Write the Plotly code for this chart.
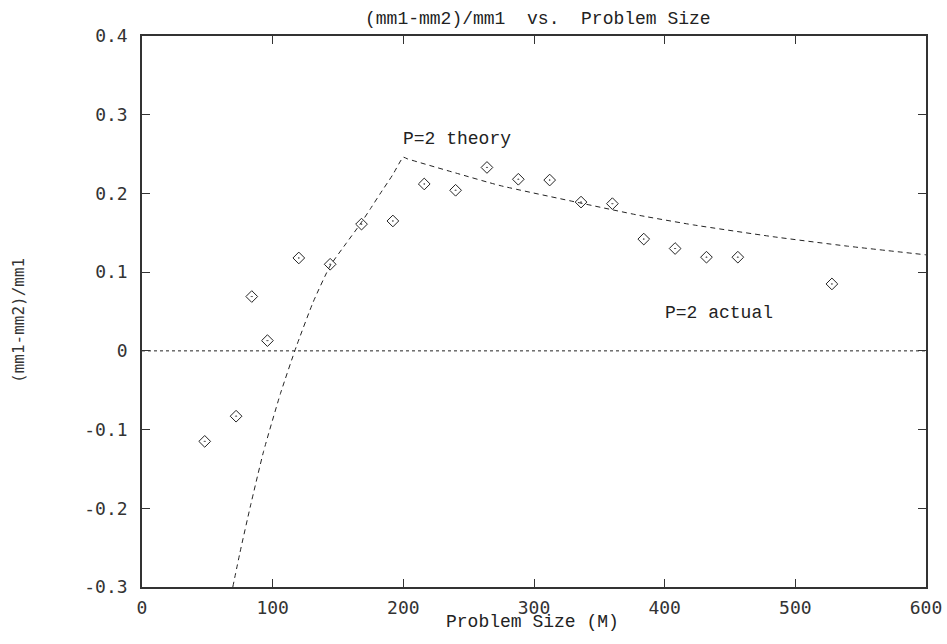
import plotly.graph_objects as go

# Measured ("P=2 actual") points
actual_x = [48, 72, 84, 96, 120, 144, 168, 192, 216, 240, 264, 288, 312, 336, 360, 384, 408, 432, 456, 528]
actual_y = [-0.115, -0.083, 0.069, 0.013, 0.118, 0.110, 0.161, 0.165, 0.212, 0.204, 0.233, 0.218, 0.217,
            0.189, 0.187, 0.142, 0.130, 0.119, 0.119, 0.085]

# Theory curve ("P=2 theory")
theory_x = [69.5, 75, 83, 93, 106, 118, 131, 144, 156, 167, 175, 182, 192, 200, 203, 240, 274, 335, 381, 422, 483, 540, 600]
theory_y = [-0.300, -0.256, -0.197, -0.128, -0.054, 0.005, 0.062, 0.108, 0.136, 0.161, 0.181, 0.199, 0.224, 0.246,
            0.244, 0.226, 0.210, 0.188, 0.172, 0.160, 0.145, 0.133, 0.122]

x_ticks = [0, 100, 200, 300, 400, 500, 600]
x_tick_text = ["0", "100", "200", "300", "400", "500", "600"]
y_ticks = [-0.3, -0.2, -0.1, 0, 0.1, 0.2, 0.3, 0.4]
y_tick_text = ["-0.3", "-0.2", "-0.1", "0", "0.1", "0.2", "0.3", "0.4"]

title_text = "(mm1-mm2)/mm1  vs.  Problem Size"
x_title = "Problem Size (M)"
y_title = "(mm1-mm2)/mm1"

INK = "#222222"
MONO = "Liberation Mono, Courier New, monospace"
SANSMONO = "DejaVu Sans Mono, monospace"

fig = go.Figure()
fig.add_trace(go.Scatter(x=theory_x, y=theory_y, mode="lines",
                         line=dict(color=INK, width=1, dash="5px,4px", shape="spline", smoothing=0.5),
                         name="P=2 theory", showlegend=False))
fig.add_trace(go.Scatter(x=actual_x, y=actual_y, mode="markers",
                         marker=dict(symbol="diamond-open-dot", size=9, color=INK,
                                     line=dict(width=1, color=INK)),
                         name="P=2 actual", showlegend=False))

fig.add_shape(type="line", xref="paper", x0=0, x1=1, yref="y", y0=0, y1=0,
              line=dict(color=INK, width=1, dash="dot"), layer="below")

axis_common = dict(showline=True, linecolor="#333333", linewidth=1.5, mirror="ticks",
                   ticks="inside", ticklen=8, tickwidth=1, tickcolor="#333333",
                   showgrid=False, zeroline=False, automargin=False,
                   tickfont=dict(family=SANSMONO, size=18, color="#333333"))

fig.update_xaxes(range=[0, 600], tickvals=x_ticks, ticktext=x_tick_text,
                 ticklabelstandoff=4, **axis_common)
fig.update_yaxes(range=[-0.3, 0.4], tickvals=y_ticks, ticktext=y_tick_text,
                 ticklabelstandoff=9, **axis_common)

W, H = 947, 644
ml, mr, mt, mb = 142, 21, 36, 57
pw, ph = W - ml - mr, H - mt - mb

def px_x(p):
    return (p - ml) / pw

def px_y(p):
    return (H - mb - p) / ph

annotations = [
    dict(text=title_text, xref="paper", yref="paper", x=px_x(538), y=px_y(19),
         showarrow=False, font=dict(family=MONO, size=18, color=INK), xanchor="center", yanchor="middle"),
    dict(text=x_title, xref="paper", yref="paper", x=px_x(532), y=px_y(622),
         showarrow=False, font=dict(family=MONO, size=18, color=INK), xanchor="center", yanchor="middle"),
    dict(text=y_title, xref="paper", yref="paper", x=px_x(19), y=px_y(321), textangle=-90,
         showarrow=False, font=dict(family=SANSMONO, size=16, color="#333333"), xanchor="center", yanchor="middle"),
    dict(text="P=2 theory", xref="x", yref="y", x=200, y=0.269, xanchor="left", yanchor="middle",
         showarrow=False, font=dict(family=MONO, size=18, color=INK), xshift=-2),
    dict(text="P=2 actual", xref="x", yref="y", x=400, y=0.048, xanchor="left", yanchor="middle",
         showarrow=False, font=dict(family=MONO, size=18, color=INK), xshift=-2),
]

fig.update_layout(width=W, height=H, margin=dict(l=ml, r=mr, t=mt, b=mb, autoexpand=False),
                  paper_bgcolor="white", plot_bgcolor="white",
                  annotations=annotations, showlegend=False)

fig.write_html("out.html", config={"displayModeBar": False},
               post_script="document.body.style.margin='0';document.body.style.overflow='hidden';")
